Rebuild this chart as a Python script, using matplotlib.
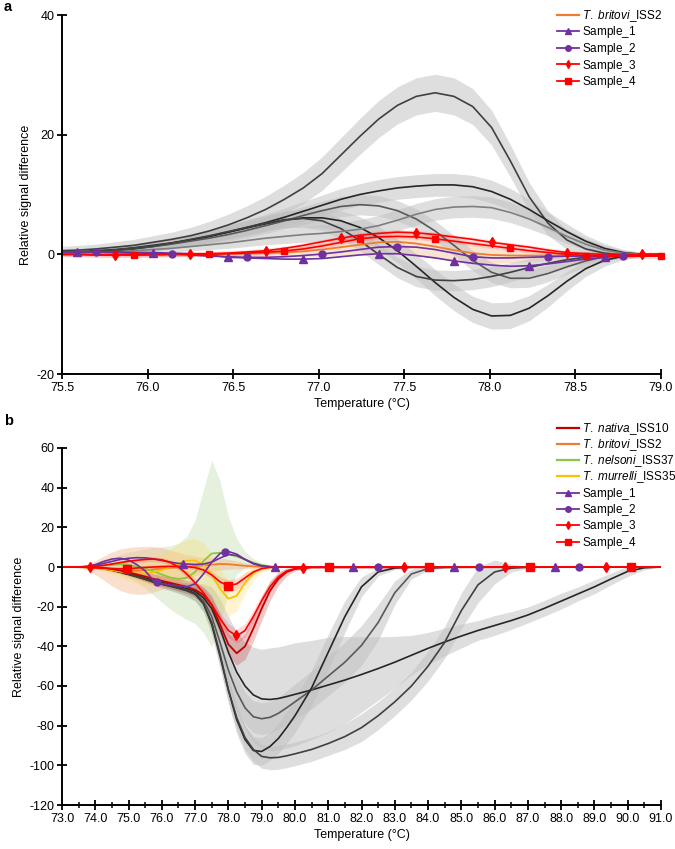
import numpy as np
import matplotlib
matplotlib.use("Agg")
import matplotlib.pyplot as plt
from matplotlib.lines import Line2D
from matplotlib.ticker import MultipleLocator, FormatStrFormatter

plt.rcParams['font.family'] = ['Liberation Sans', 'DejaVu Sans']
plt.rcParams['mathtext.fontset'] = 'custom'
plt.rcParams['mathtext.rm'] = 'Liberation Sans'
plt.rcParams['mathtext.it'] = 'Liberation Sans:italic'
plt.rcParams['axes.unicode_minus'] = False

# ---------------- Panel a data (temperature grid, step 0.11 C) ----------------
temp_a = np.round(np.linspace(75.48, 79.00, 33), 2)

a_gray_1 = [0.6,0.7,0.9,1.2,1.5,2.0,2.5,3.1,3.9,4.9,6.1,7.5,9.2,11.1,13.5,16.6,19.7,22.6,24.9,26.4,27.0,26.4,24.7,21.2,15.6,9.6,5.2,2.4,0.9,0.2,-0.1,-0.1,0.0]
a_gray_1_sd = [0.7,0.8,0.8,0.9,1.0,1.1,1.2,1.4,1.6,1.8,2.0,2.2,2.4,2.6,2.8,2.9,3.0,3.1,3.1,3.1,3.1,3.1,3.0,2.9,2.7,2.4,2.0,1.6,1.2,0.8,0.5,0.3,0.3]
a_gray_2 = [0.3,0.4,0.6,0.8,1.1,1.5,1.9,2.4,3.0,3.7,4.5,5.3,6.2,7.2,8.2,9.2,10.0,10.6,11.1,11.4,11.6,11.6,11.3,10.5,9.2,7.5,5.6,3.8,2.2,1.0,0.3,0.0,0.0]
a_gray_2_sd = [0.5,0.5,0.6,0.6,0.7,0.8,0.9,1.0,1.1,1.2,1.3,1.4,1.5,1.6,1.7,1.8,1.8,1.9,1.9,1.9,1.9,1.9,1.9,1.9,1.8,1.7,1.5,1.3,1.0,0.8,0.5,0.3,0.3]
a_gray_3 = [0.2,0.3,0.4,0.6,0.9,1.3,1.8,2.4,3.0,3.7,4.4,5.1,5.7,6.1,6.1,5.6,4.5,2.8,0.6,-2.0,-4.7,-7.2,-9.2,-10.3,-10.2,-9.0,-6.9,-4.5,-2.4,-1.0,-0.3,0.0,0.0]
a_gray_3_sd = [0.3,0.3,0.4,0.5,0.6,0.7,0.8,0.9,1.0,1.1,1.2,1.3,1.4,1.5,1.6,1.7,1.8,1.9,2.0,2.1,2.2,2.2,2.2,2.2,2.2,2.1,1.9,1.6,1.3,1.0,0.6,0.3,0.3]
a_gray_4 = [0.2,0.3,0.5,0.7,1.0,1.3,1.7,2.2,2.7,3.3,4.0,4.8,5.6,6.5,7.3,8.0,8.3,8.1,7.3,5.9,3.9,1.5,-1.0,-3.0,-4.0,-4.0,-3.2,-2.1,-1.1,-0.4,-0.1,0.0,0.0]
a_gray_4_sd = [0.3,0.3,0.4,0.5,0.6,0.7,0.8,0.9,1.0,1.1,1.2,1.3,1.4,1.5,1.6,1.7,1.7,1.7,1.7,1.7,1.7,1.7,1.7,1.7,1.6,1.5,1.4,1.2,1.0,0.8,0.5,0.3,0.3]
a_gray_5 = [0.2,0.3,0.5,0.7,1.0,1.4,1.9,2.5,3.1,3.8,4.5,5.2,5.8,6.0,5.6,4.3,2.3,0.0,-2.2,-3.7,-4.3,-4.4,-4.2,-3.7,-3.0,-2.2,-1.5,-0.9,-0.5,-0.2,-0.1,0.0,0.0]
a_gray_5_sd = [0.3,0.3,0.4,0.5,0.6,0.7,0.8,0.9,1.0,1.1,1.2,1.3,1.4,1.5,1.6,1.7,1.7,1.7,1.7,1.7,1.7,1.7,1.7,1.7,1.6,1.5,1.4,1.2,1.0,0.8,0.5,0.3,0.3]
a_gray_6 = [0.1,0.2,0.3,0.4,0.6,0.8,1.0,1.3,1.6,1.9,2.3,2.7,3.0,3.3,3.5,3.8,4.2,4.8,5.7,6.7,7.5,7.9,8.0,7.8,7.0,5.9,4.5,3.0,1.7,0.7,0.2,0.0,0.0]
a_gray_6_sd = [0.3,0.3,0.3,0.4,0.4,0.5,0.6,0.7,0.8,0.9,1.0,1.1,1.2,1.3,1.4,1.5,1.6,1.7,1.8,1.8,1.8,1.8,1.8,1.8,1.7,1.6,1.4,1.2,1.0,0.8,0.5,0.3,0.3]

a_britovi = [0.1,0.1,0.1,0.1,0.0,0.0,0.0,0.0,0.0,0.1,0.1,0.2,0.3,0.5,0.8,1.2,1.6,2.0,2.1,1.8,1.3,0.7,0.2,-0.1,-0.2,-0.2,-0.2,-0.2,-0.1,-0.1,0.0,0.0,0.0]
a_britovi_sd = [0.3,0.3,0.3,0.3,0.3,0.3,0.3,0.3,0.3,0.3,0.4,0.5,0.7,0.9,1.1,1.4,1.7,1.9,2.0,2.0,1.9,1.8,1.6,1.4,1.2,1.0,0.8,0.6,0.5,0.4,0.3,0.3,0.3]
a_sample_1 = [0.4,0.4,0.4,0.4,0.3,0.3,0.2,0.1,-0.1,-0.5,-0.6,-0.7,-0.8,-0.8,-0.7,-0.4,-0.1,0.1,0.1,-0.2,-0.6,-1.1,-1.5,-1.8,-2.0,-1.9,-1.6,-1.2,-0.8,-0.5,-0.2,-0.1,0.0]
a_sample_2 = [0.4,0.4,0.4,0.3,0.2,0.1,0.05,-0.1,-0.3,-0.4,-0.5,-0.5,-0.4,-0.2,0.05,0.4,0.8,1.2,1.3,1.2,0.8,0.2,-0.4,-0.6,-0.6,-0.5,-0.4,-0.3,-0.3,-0.3,-0.3,-0.2,-0.1]
a_sample_3 = [0.0,0.0,-0.1,-0.1,-0.1,0.0,0.0,0.05,0.1,0.2,0.4,0.6,1.0,1.5,2.1,2.7,3.2,3.5,3.7,3.6,3.3,2.9,2.5,2.0,1.6,1.2,0.7,0.3,0.1,0.0,0.0,0.0,0.0]
a_sample_4 = [0.0,0.0,-0.1,-0.1,-0.1,-0.1,0.0,0.0,0.05,0.1,0.2,0.35,0.55,0.9,1.4,2.0,2.6,2.9,3.0,2.9,2.6,2.2,1.8,1.4,1.0,0.6,0.3,0.0,-0.2,-0.3,-0.3,-0.3,-0.3]
a_sample_sd = 0.4

# ---------------- Panel b data ----------------
temp_b = np.concatenate([np.arange(73.0, 80.01, 0.25), np.arange(80.5, 91.01, 0.5)])
temp_b_col = np.concatenate([np.arange(73.0, 80.01, 0.25), [80.5, 91.0]])

b_gray_1 = [0,0,0,-0.1,-0.3,-0.7,-1.4,-2.3,-3.3,-4.4,-5.6,-6.8,-7.8,-8.8,-9.8,-10.9,-12.3,-15.5,-21,-31,-43,-53,-60,-64.5,-66.5,-66.8,-66.3,-65.3,-64.2,-62,-59.5,-57,-54.2,-51.2,-48,-44.5,-41,-37.8,-34.8,-32,-29.5,-27,-24.2,-20.8,-17.2,-13.6,-10,-6,-2.2,-0.4,0]
b_gray_1_sd = [0,0,0,0.1,0.3,0.5,0.7,0.8,1.0,1.2,1.5,1.7,2.0,2.2,2.5,3,4,7,11,15,18,20,22,24,25,26,26,26,26,25,24,22,19,16,13,10,8,7,6,5,5,4.5,4,4,4,3.5,3.5,3,2.5,1,0]
b_gray_2 = [0,0,0,-0.1,-0.3,-0.8,-1.5,-2.5,-3.5,-4.7,-6.0,-7.3,-8.4,-9.4,-10.4,-11.6,-13.2,-17,-25,-38,-52,-63,-71,-75.5,-76.5,-75.8,-73.8,-71,-68,-62,-55,-48,-39.5,-28,-13,-3.5,-0.8,-0.2,0,0,0,0,0,0,0,0,0,0,0,0,0]
b_gray_2_sd = [0,0,0,0.1,0.3,0.5,0.7,0.8,1.0,1.2,1.5,1.7,2.0,2.2,2.5,3,3.5,4,5,6,7,8,8,8,8,8,8,8.5,9,9.5,10,10,10,9,6,2.5,1,0.5,0.3,0,0,0,0,0,0,0,0,0,0,0,0]
b_gray_3 = [0,0,0,-0.1,-0.3,-0.8,-1.6,-2.6,-3.7,-4.9,-6.2,-7.5,-8.6,-9.6,-10.6,-11.8,-13.5,-18.5,-29,-45,-62,-77,-87,-92.5,-93,-90.5,-86.5,-81,-75,-61,-43,-25,-10,-2.5,-0.5,-0.1,0,0,0,0,0,0,0,0,0,0,0,0,0,0,0]
b_gray_3_sd = [0,0,0,0.1,0.3,0.5,0.7,0.8,1.0,1.2,1.5,1.7,2.0,2.2,2.5,3,3.5,4,5,6,6.5,7,7,7,7,7,7.5,8,8.5,9,9,8,5,2,0.8,0.3,0,0,0,0,0,0,0,0,0,0,0,0,0,0,0]
b_gray_4 = [0,0,0,-0.1,-0.3,-0.8,-1.6,-2.6,-3.7,-4.9,-6.2,-7.6,-8.7,-9.7,-10.8,-12.0,-13.8,-18.5,-28,-44,-62,-76,-86,-92,-95.5,-96.2,-96,-95.2,-94.2,-92,-89,-85.5,-81,-75,-68,-60,-50,-38,-22,-9,-2.5,-0.6,-0.1,0,0,0,0,0,0,0,0]
b_gray_4_sd = [0,0,0,0.1,0.3,0.5,0.7,0.8,1.0,1.2,1.5,1.7,2.0,2.2,2.5,3,3.5,4,5,6,6,6,6,6,6,6,6,6,6,6,6,6.5,7,7,7,7,7.5,8,9,9,6,2,0.5,0,0,0,0,0,0,0,0]

b_nativa = [0,0,0,0,-0.2,-0.5,-1.0,-1.8,-2.7,-3.7,-4.8,-6.0,-7.0,-8.0,-9.0,-10.0,-11.5,-14,-19,-29,-39,-43.5,-40,-31,-21,-12,-6,-2.5,-1,-0.2,0]
b_nativa_sd = [0,0,0,0,0.3,0.6,1.0,1.3,1.6,1.9,2.2,2.5,2.7,2.9,3.1,3.3,3.6,4,4.5,5,5.5,6,6.5,6.5,6,5,3.5,2,1,0.4,0]
b_britovi = [0,0,0,-0.1,-0.3,-0.6,-1.0,-1.4,-1.7,-1.8,-1.6,-1.2,-0.8,-0.4,-0.1,0.2,0.5,0.8,1.2,1.5,1.4,1.0,0.6,0.3,0.1,0,0,0,0,0,0]
b_britovi_sd = [0,0,0.5,1.5,3.5,6,8.5,10.5,11.5,12,12,11.5,10.5,9,7.5,6,5,4,3.5,3,2.5,2,1.5,1,0.5,0.3,0.2,0,0,0,0]
b_nelsoni = [0,0,0,0.2,0.5,0.9,1.2,1.3,1.0,0.3,-0.8,-2.2,-3.8,-5.3,-6.0,-5.5,-2.5,3.0,6.8,7.2,6.5,5.3,3.8,2.2,1.0,0.3,0,0,0,0,0]
b_nelsoni_sd = [0,0,0.3,0.8,1.5,2.5,3.5,5,6.5,8,10,12,14,16,18,21,26,36,47,36,19,9,4,2,1,0.5,0.2,0,0,0,0]
b_murrelli = [0,0,0,-0.2,-0.5,-1.0,-1.6,-2.3,-2.9,-3.2,-3.2,-2.6,-1.5,0.0,1.8,3.2,3.3,1.2,-4.0,-11.0,-16.0,-14.5,-8.0,-3.0,-0.8,-0.2,0,0,0,0,0]
b_murrelli_sd = [0,0,0,0.3,0.8,1.3,2,3,4,5,6,7,8,9,10,10.5,11,11,10.5,10,9,7.5,5.5,3.5,2,1,0.5,0.2,0,0,0]
b_sample_1 = [0,0,0,0.2,0.8,1.8,2.8,3.8,4.4,4.7,4.6,4.1,3.3,2.5,1.8,1.5,1.3,1.5,2.5,4.5,6.3,5.8,3.8,1.8,0.6,0.1,0,0,0,0,0]
b_sample_2 = [0,0,0,0.3,1.2,2.8,4.0,4.4,3.5,1.2,-2.0,-6.8,-8.3,-9.0,-9.5,-10.0,-8.5,-3.5,2.5,6.8,7.8,6.5,3.8,1.6,0.5,0.1,0,0,0,0,0]
b_sample_3 = [0,0,0,0,0.3,0.8,1.5,2.2,2.9,3.4,3.8,4.0,3.6,2.3,0.0,-3.5,-8.0,-13,-19,-26,-32,-34.8,-32,-25,-17,-10,-5,-2,-0.8,-0.1,0]
b_sample_3_sd = [0,0,0,0,0.3,0.5,0.7,0.9,1.0,1.1,1.2,1.2,1.2,1.3,1.5,1.8,2.0,2.3,2.6,3,3.3,3.5,3.5,3.3,3,2.5,1.8,1,0.5,0.2,0]
b_sample_4 = [0,0,0,-0.2,-0.4,-0.6,-0.8,-0.9,-0.8,-0.5,-0.2,0.0,0.2,0.3,0.3,0.2,-0.3,-1.5,-4.0,-7.5,-9.5,-8.5,-5.5,-2.5,-0.8,-0.2,0,0,0,0,0]
b_sample_4_sd = [0,0,0,0.2,0.4,0.6,0.8,1.0,1.0,1.0,1.0,1.0,1.0,1.0,1.0,1.0,1.2,1.5,2,2.5,3,3,2.5,1.5,0.8,0.3,0,0,0,0,0]

# marker temperatures for the samples in panel b
b_marks_1 = [76.65, 79.4, 81.75, 84.78, 87.81]
b_marks_2 = [75.86, 77.9, 82.5, 85.53, 88.54]
b_marks_3 = [73.84, 78.22, 80.25, 83.27, 86.3, 89.35]
b_marks_4 = [74.95, 78.0, 81.03, 84.03, 87.06, 90.1]

# ---------------- styles ----------------
C_PURPLE = '#7030A0'
C_RED = '#FF0000'
C_ORANGE = '#ED7D31'
C_DARKRED = '#C00000'
C_GREEN = '#8DC63F'
C_YELLOW = '#FFC000'
GRAY_BAND = '#BFBFBF'

lab_britovi = r'$\it{T.\ britovi}\mathrm{\_ISS2}$'
lab_nativa = r'$\it{T.\ nativa}\mathrm{\_ISS10}$'
lab_nelsoni = r'$\it{T.\ nelsoni}\mathrm{\_ISS37}$'
lab_murrelli = r'$\it{T.\ murrelli}\mathrm{\_ISS35}$'
lab_s = [r'$\mathrm{Sample\_1}$', r'$\mathrm{Sample\_2}$',
         r'$\mathrm{Sample\_3}$', r'$\mathrm{Sample\_4}$']

fig = plt.figure(figsize=(6.75, 8.49), dpi=100)
ax_a = fig.add_axes([62/675, 1-374/849, 599/675, 359/849])
ax_b = fig.add_axes([62/675, 1-805/849, 599/675, 357/849])


def style(ax):
    for s in ['top', 'right']:
        ax.spines[s].set_visible(False)
    for s in ['left', 'bottom']:
        ax.spines[s].set_linewidth(1.4)
    ax.tick_params(which='major', direction='inout', length=7, width=1.3,
                   labelsize=9, pad=2)
    ax.tick_params(which='minor', direction='inout', length=4, width=1.1)


def band(ax, x, y, sd, color, alpha):
    y = np.asarray(y, float)
    sd = np.asarray(sd, float)
    ax.fill_between(x, y - sd, y + sd, color=color, alpha=alpha, lw=0)


# ---------------- Panel a ----------------
a_grays = [(a_gray_1, a_gray_1_sd, '#404040'), (a_gray_2, a_gray_2_sd, '#262626'),
           (a_gray_3, a_gray_3_sd, '#262626'), (a_gray_4, a_gray_4_sd, '#595959'),
           (a_gray_5, a_gray_5_sd, '#404040'), (a_gray_6, a_gray_6_sd, '#7F7F7F')]
band(ax_a, temp_a, a_britovi, a_britovi_sd, '#F4B183', 0.35)
for y, sd, c in a_grays:
    band(ax_a, temp_a, y, sd, GRAY_BAND, 0.5)
band(ax_a, temp_a, a_sample_3, np.full(len(temp_a), a_sample_sd), C_RED, 0.12)
band(ax_a, temp_a, a_sample_4, np.full(len(temp_a), a_sample_sd), C_RED, 0.12)
for y, sd, c in a_grays:
    ax_a.plot(temp_a, y, color=c, lw=1.2)
ax_a.plot(temp_a, a_britovi, color=C_ORANGE, lw=1.3)

a_samples = [(a_sample_1, C_PURPLE, '^', 5.5, 1), (a_sample_2, C_PURPLE, 'o', 5, 2),
             (a_sample_3, C_RED, 'd', 5, 3), (a_sample_4, C_RED, 's', 5, 4)]
for y, c, m, ms, start in a_samples:
    ax_a.plot(temp_a, y, color=c, lw=1.2)
    ax_a.plot(temp_a, y, ls='none', marker=m, ms=ms, color=c,
              markevery=slice(start, None, 4), clip_on=False, zorder=5)

ax_a.set_xlim(75.5, 79.0)
ax_a.set_ylim(-20, 40)
ax_a.xaxis.set_major_locator(MultipleLocator(0.5))
ax_a.xaxis.set_major_formatter(FormatStrFormatter('%.1f'))
ax_a.yaxis.set_major_locator(MultipleLocator(20))
style(ax_a)
ax_a.set_xlabel('Temperature (°C)', fontsize=9, labelpad=3)
ax_a.set_ylabel('Relative signal difference', fontsize=9, labelpad=3)

handles_a = [Line2D([], [], color=C_ORANGE, lw=1.6, label=lab_britovi),
             Line2D([], [], color=C_PURPLE, lw=1.3, marker='^', ms=4, label=lab_s[0]),
             Line2D([], [], color=C_PURPLE, lw=1.3, marker='o', ms=4, label=lab_s[1]),
             Line2D([], [], color=C_RED, lw=1.3, marker='d', ms=4, label=lab_s[2]),
             Line2D([], [], color=C_RED, lw=1.3, marker='s', ms=4, label=lab_s[3])]
fig.legend(handles=handles_a, loc='upper left', bbox_to_anchor=(557/675, 1-8/849),
           frameon=False, fontsize=8.5, handlelength=1.9, handletextpad=0.25,
           labelspacing=0.05, borderpad=0, borderaxespad=0)

# ---------------- Panel b ----------------
b_grays = [(b_gray_1, b_gray_1_sd, '#262626'), (b_gray_2, b_gray_2_sd, '#595959'),
           (b_gray_3, b_gray_3_sd, '#262626'), (b_gray_4, b_gray_4_sd, '#404040')]
for y, sd, c in b_grays:
    band(ax_b, temp_b, y, sd, GRAY_BAND, 0.5)
band(ax_b, temp_b_col, b_nelsoni, b_nelsoni_sd, '#A9D18E', 0.3)
band(ax_b, temp_b_col, b_britovi, b_britovi_sd, '#F4B183', 0.4)
band(ax_b, temp_b_col, b_murrelli, b_murrelli_sd, '#FFD966', 0.3)
band(ax_b, temp_b_col, b_nativa, b_nativa_sd, C_DARKRED, 0.22)
band(ax_b, temp_b_col, b_sample_3, b_sample_3_sd, C_RED, 0.15)
band(ax_b, temp_b_col, b_sample_4, b_sample_4_sd, C_RED, 0.12)
for y, sd, c in b_grays:
    ax_b.plot(temp_b, y, color=c, lw=1.2)
ax_b.plot(temp_b_col, b_britovi, color=C_ORANGE, lw=1.3)
ax_b.plot(temp_b_col, b_nelsoni, color=C_GREEN, lw=1.3)
ax_b.plot(temp_b_col, b_murrelli, color=C_YELLOW, lw=1.3)
ax_b.plot(temp_b_col, b_nativa, color=C_DARKRED, lw=1.3)

b_samples = [(b_sample_1, b_marks_1, C_PURPLE, '^', 5.5), (b_sample_2, b_marks_2, C_PURPLE, 'o', 5),
             (b_sample_3, b_marks_3, C_RED, 'd', 5.5), (b_sample_4, b_marks_4, C_RED, 's', 5.5)]
for y, marks, c, m, ms in b_samples:
    ax_b.plot(temp_b_col, y, color=c, lw=1.2)
    ax_b.plot(marks, np.interp(marks, temp_b_col, y), ls='none', marker=m, ms=ms,
              color=c, zorder=5)

ax_b.set_xlim(73.0, 91.0)
ax_b.set_ylim(-120, 60)
ax_b.xaxis.set_major_locator(MultipleLocator(1.0))
ax_b.xaxis.set_minor_locator(MultipleLocator(0.5))
ax_b.xaxis.set_major_formatter(FormatStrFormatter('%.1f'))
ax_b.yaxis.set_major_locator(MultipleLocator(20))
style(ax_b)
ax_b.set_xlabel('Temperature (°C)', fontsize=9, labelpad=3)
ax_b.set_ylabel('Relative signal difference', fontsize=9, labelpad=3)

handles_b = [Line2D([], [], color=C_DARKRED, lw=1.6, label=lab_nativa),
             Line2D([], [], color=C_ORANGE, lw=1.6, label=lab_britovi),
             Line2D([], [], color=C_GREEN, lw=1.6, label=lab_nelsoni),
             Line2D([], [], color=C_YELLOW, lw=1.6, label=lab_murrelli),
             Line2D([], [], color=C_PURPLE, lw=1.3, marker='^', ms=4, label=lab_s[0]),
             Line2D([], [], color=C_PURPLE, lw=1.3, marker='o', ms=4, label=lab_s[1]),
             Line2D([], [], color=C_RED, lw=1.3, marker='d', ms=4, label=lab_s[2]),
             Line2D([], [], color=C_RED, lw=1.3, marker='s', ms=4, label=lab_s[3])]
fig.legend(handles=handles_b, loc='upper left', bbox_to_anchor=(557/675, 1-421/849),
           frameon=False, fontsize=8.5, handlelength=1.9, handletextpad=0.25,
           labelspacing=0.03, borderpad=0, borderaxespad=0)

fig.text(4/675, 1-11/849, 'a', fontsize=10.5, fontweight='bold', va='baseline', ha='left')
fig.text(4/675, 1-425/849, 'b', fontsize=10.5, fontweight='bold', va='baseline', ha='left')

fig.savefig('out.png', dpi=100)
